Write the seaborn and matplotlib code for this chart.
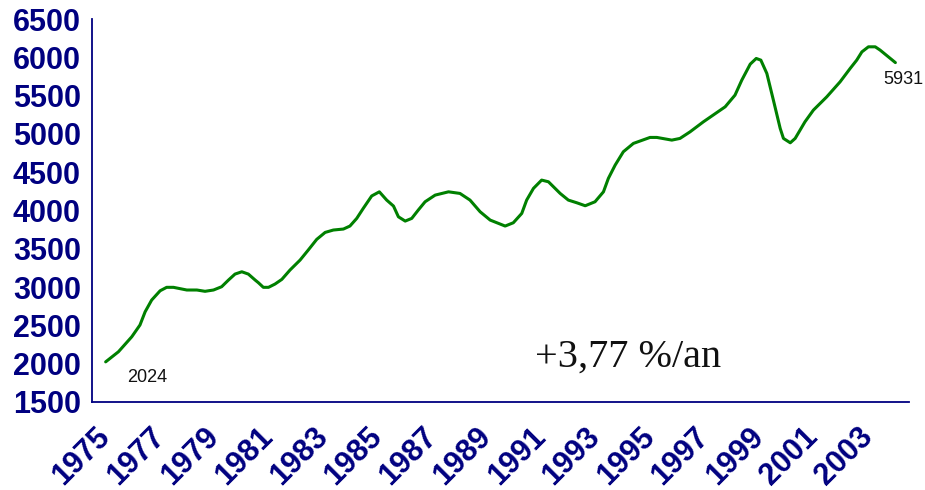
import matplotlib
matplotlib.use("Agg")
import matplotlib.pyplot as plt
import seaborn as sns
import pandas as pd
from matplotlib.ticker import FixedLocator

years = [1975.00, 1975.47, 1975.96, 1976.26, 1976.45, 1976.69, 1977.00, 1977.24, 1977.49, 1977.98,
         1978.35, 1978.65, 1978.96, 1979.26, 1979.51, 1979.75, 1980.00, 1980.24, 1980.49, 1980.61,
         1980.79, 1980.98, 1981.22, 1981.47, 1981.77, 1982.14, 1982.44, 1982.75, 1983.06, 1983.36,
         1983.73, 1983.97, 1984.22, 1984.46, 1984.77, 1985.05, 1985.32, 1985.57, 1985.75, 1986.00,
         1986.24, 1986.48, 1986.73, 1987.10, 1987.59, 1988.01, 1988.38, 1988.75, 1989.12, 1989.67,
         1989.97, 1990.28, 1990.46, 1990.71, 1991.01, 1991.26, 1991.69, 1991.99, 1992.30, 1992.61,
         1992.97, 1993.28, 1993.46, 1993.71, 1994.01, 1994.38, 1994.99, 1995.24, 1995.79, 1996.09,
         1996.46, 1996.95, 1997.75, 1998.11, 1998.36, 1998.67, 1998.89, 1999.06, 1999.28, 1999.52,
         1999.77, 1999.89, 2000.14, 2000.32, 2000.68, 2000.99, 2001.48, 2001.97, 2002.34, 2002.58,
         2002.77, 2003.01, 2003.26, 2003.44, 2004.00]
values = [2024, 2156, 2352, 2505, 2678, 2831, 2952, 2997, 2997, 2962,
          2962, 2945, 2962, 3005, 3092, 3170, 3200, 3170, 3092, 3057,
          2997, 2997, 3040, 3101, 3223, 3353, 3484, 3623, 3714, 3745,
          3758, 3797, 3897, 4028, 4190, 4244, 4136, 4058, 3918, 3862,
          3897, 4006, 4114, 4201, 4244, 4223, 4136, 3984, 3875, 3797,
          3840, 3962, 4136, 4289, 4397, 4375, 4223, 4136, 4101, 4062,
          4114, 4244, 4419, 4593, 4767, 4876, 4954, 4954, 4919, 4941,
          5027, 5158, 5354, 5506, 5702, 5911, 5985, 5963, 5789, 5441,
          5072, 4941, 4884, 4941, 5158, 5311, 5484, 5680, 5855, 5963,
          6071, 6137, 6137, 6094, 5931]

tick_years = list(range(1975, 2004, 2))
tick_labels = [str(y) for y in tick_years]
y_ticks = list(range(1500, 7000, 500))
start_label = "2024"
end_label = "5931"
growth_label = "+3,77 %/an"

navy = "#000080"

sns.set_style("white")
plt.rcParams['font.family'] = ['Liberation Sans', 'DejaVu Sans']

fig = plt.figure(figsize=(9.25, 4.9), dpi=100)
ax = fig.add_axes([0.0995, 0.1796, 0.8832, 0.7816])

df = pd.DataFrame({"year": years, "value": values})
sns.lineplot(data=df, x="year", y="value", ax=ax, color="#008000", linewidth=2.2, sort=False)

ax.set_xlim(1974.5, 2004.5)
ax.set_ylim(1500, 6500)
ax.set_xlabel("")
ax.set_ylabel("")

for s in ["top", "right"]:
    ax.spines[s].set_visible(False)
for s in ["left", "bottom"]:
    ax.spines[s].set_color(navy)
    ax.spines[s].set_linewidth(1.3)

ax.set_yticks(y_ticks)
ax.set_yticklabels([str(v) for v in y_ticks], fontsize=22, fontweight="bold", color=navy)
ax.tick_params(axis="y", direction="in", length=7, width=1, color=navy, pad=8)

ax.set_xticks(tick_years)
ax.set_xticklabels(tick_labels, fontsize=22, fontweight="bold", color=navy,
                   rotation=45, ha="right", va="center", rotation_mode="anchor")
ax.tick_params(axis="x", which="major", length=0, pad=22)
ax.xaxis.set_minor_locator(FixedLocator([1974.5 + i for i in range(31)]))
ax.tick_params(axis="x", which="minor", direction="in", length=6, width=1, color=navy)

ax.text(1975.78, 1765, start_label, fontsize=13, color="#111111", ha="left", va="baseline")
ax.text(2003.56, 5646, end_label, fontsize=13, color="#111111", ha="left", va="baseline")
ax.text(1990.77, 1961, growth_label, fontsize=29, color="#111111", ha="left", va="baseline",
        family=["Liberation Serif", "DejaVu Serif"])

fig.savefig("out.png", dpi=100)
